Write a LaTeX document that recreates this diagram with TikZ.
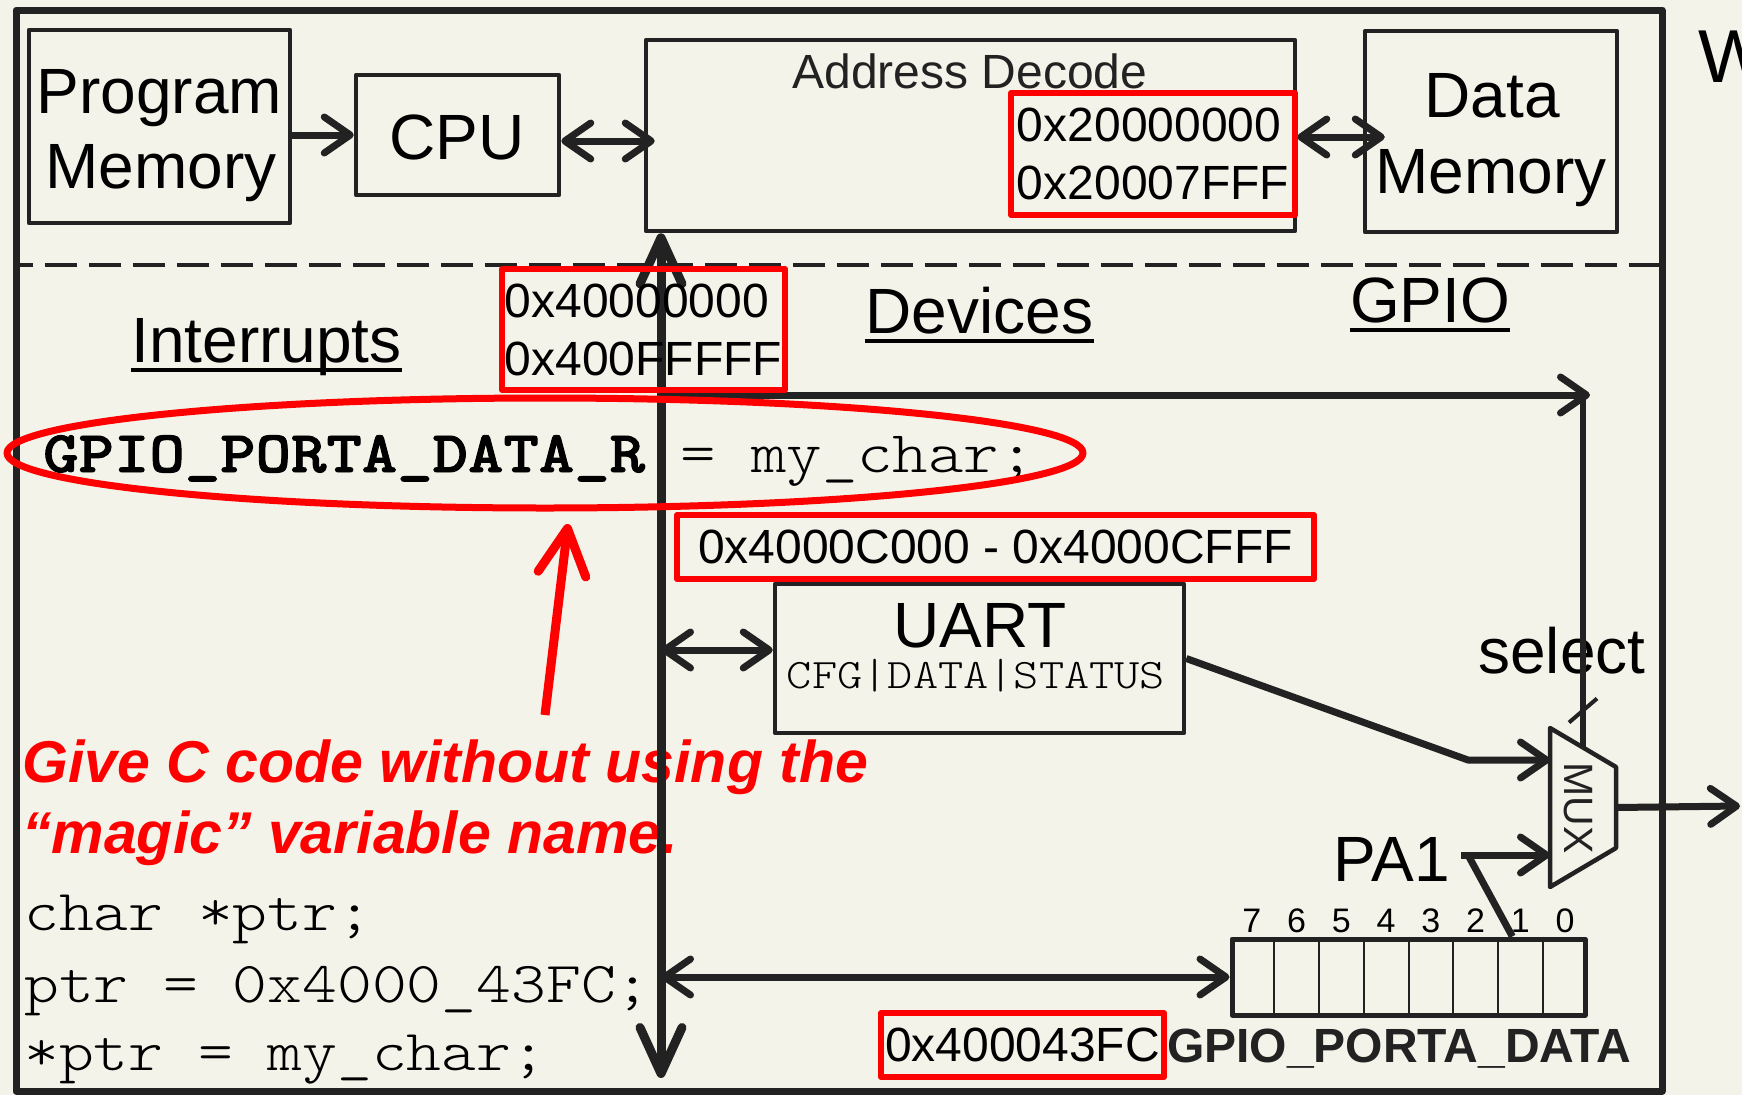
\documentclass[tikz,border=0pt]{standalone}
\usepackage{fontspec}
\setmainfont{Liberation Sans}
\setmonofont{lmmonolt10-regular.otf}[FakeStretch=1.143,BoldFont=lmmonolt10-bold.otf,BoldFeatures={FakeStretch=1.143,FakeBold=1.5}]
\usetikzlibrary{arrows.meta,calc}
\definecolor{bg}{RGB}{243,243,233}
\definecolor{ink}{RGB}{34,34,34}
\definecolor{hl}{RGB}{255,0,0}
\newcommand\fsz[2]{\fontsize{#1pt}{#2pt}\selectfont}
\tikzset{
  Chev/.tip={Straight Barb[length=26pt,width=36pt,round]},
  BigChev/.tip={Straight Barb[length=46pt,width=42pt,round]},
  RedChev/.tip={Straight Barb[length=46pt,width=48pt,round]},
}
\begin{document}
\begin{tikzpicture}[x=1pt,y=-1pt,line join=round,
  every node/.style={inner sep=0pt},
  box/.style={draw=ink,line width=4.5pt},
  hlbox/.style={draw=hl,line width=6pt},
  wire/.style={draw=ink,line width=7pt},
  uline/.style={draw=black,line width=4pt},
  head/.style={font=\fsz{64}{75}},
  hex/.style={font=\fsz{48}{58}},
  code/.style={font=\ttfamily\fsz{58}{70}}]
\useasboundingbox (0,0) rectangle (1742,1095);
\fill[bg] (0,0) rectangle (1742,1095);

% outer frame and the split between core and peripheral region
\draw[ink,line width=7pt] (16,10) rectangle (1662,1091);
\draw[ink,line width=4pt,dash pattern=on 32pt off 12pt,dash phase=15pt] (16,265) -- (1662,265);

% core: memories, CPU, address decoder
\node[box,minimum width=261pt,minimum height=193pt] (pm) at (159.5,126.5) {};
\node[anchor=base,head] (pm1) at (159.5,113) {Program};
\node[anchor=base,head] (pm2) at (161,188) {Memory};
\node[box,minimum width=203pt,minimum height=120pt] (cpu) at (457.5,135) {};
\node[anchor=base,head] (cpul) at (457,159) {CPU};
\node[box,minimum width=649pt,minimum height=191pt] (ad) at (970.5,135.5) {};
\node[anchor=base,font=\fsz{48}{56},text=ink] (adl) at (970,88) {Address Decode};
\node[box,minimum width=252pt,minimum height=201pt] (dm) at (1491,131.5) {};
\node[anchor=base,head] (dm1) at (1492,117) {Data};
\node[anchor=base,head] (dm2) at (1491,193) {Memory};
\node[anchor=base west,font=\fsz{75}{80}] (wr) at (1698,82) {W};

\coordinate (r141) at (0,141);
\coordinate (r137) at (0,137);
\draw[wire,-Chev] (pm.east |- cpu.west) -- (cpu.west);
\draw[wire,Chev-Chev,shorten >=-11pt] (cpu.east |- r141) -- (ad.west |- r141);
\draw[wire,Chev-Chev,shorten >=-22pt] (ad.east |- r137) -- (dm.west |- r137);

% section headings
\node[anchor=base,head] (irq) at (266.5,362) {Interrupts};
\node[anchor=base,head] (dev) at (979.5,333) {Devices};
\node[anchor=base,head] (gpio) at (1430,322) {GPIO};
\foreach \n in {irq,dev,gpio}
  \draw[uline] ([yshift=-8pt]\n.base west) -- ([yshift=-8pt]\n.base east);

% question text (under the bus)
\node[anchor=base west,text=hl,font=\bfseries\itshape\fsz{59}{70}] (q1) at (22,782) {Give C code without using the};
\node[anchor=base west,text=hl,font=\bfseries\itshape\fsz{59}{70}] (q2) at (22,853) {“magic” variable name.};

% code
\node[anchor=base west,font=\ttfamily\fsz{59}{70}] (magic) at (43,472) {\textbf{GPIO\_PORTA\_DATA\_R} = my\_char;};
\node[anchor=base west,code] (c1) at (24,930) {char *ptr;};
\node[anchor=base west,code] (c2) at (24,1002) {ptr = 0x4000\_43FC;};
\node[anchor=base west,code] (c3) at (24,1070) {*ptr = my\_char;};

% UART
\node[box,minimum width=409pt,minimum height=149pt] (uart) at (979.5,658.5) {};
\node[anchor=base,head] (uartl) at (980,647) {UART};
\node[anchor=base,font=\ttfamily\fsz{42}{45}] (uartr) at (976,688) {CFG|DATA|STATUS};

% multiplexer
\coordinate (mtl) at (1550,728);
\coordinate (mtr) at (1616,767);
\coordinate (mbr) at (1616,848);
\coordinate (mbl) at (1550,887);
\draw[ink,line width=4.5pt] (mtl) -- (mtr) -- (mbr) -- (mbl) -- cycle;
\node[rotate=-90,font=\fsz{41}{45},text=ink] (muxl) at (1578,808) {MUX};
\coordinate (msel) at ($(mtl)!0.5!(mtr)$);
\coordinate (min1) at (1550,760);
\coordinate (min2) at (1550,855);
\coordinate (mout) at ($(mtr)!0.5!(mbr)$);
\coordinate (outend) at (1740,806);
\node[anchor=base west,head] (sel) at (1478,673) {select};
\node[anchor=base east,head] (pa1) at (1450,881) {PA1};

% port A data register
\node[draw=ink,line width=5pt,minimum width=353pt,minimum height=76pt] (reg) at (1408.5,977) {};
\foreach \i in {1,...,7}
  \draw[ink,line width=2pt] ($(reg.north west)!\i/8!(reg.north east)$) -- ($(reg.south west)!\i/8!(reg.south east)$);
\foreach \b in {7,6,5,4,3,2,1,0}
  \node[anchor=base,font=\fsz{34}{38}] (bit\b) at ($(reg.north west)!{(7.5-\b)/8}!(reg.north east)+(0,-4)$) {\b};
\node[anchor=base west,font=\bfseries\fsz{48}{55},text=ink] (regname) at (1167,1062) {GPIO\_PORTA\_DATA};
\coordinate (tap) at ($(reg.north west)!0.79!(reg.north east)$);

% system bus and its branches
\coordinate (busx) at (661,0);
\coordinate (busend) at (661,1078);
\coordinate (b2) at (661,650);
\coordinate (selc) at (1590,395);
\coordinate (bend1) at (1468,760);
\coordinate (bend2) at (1468,855);
\draw[ink,line width=9pt,BigChev-BigChev] (ad.south -| busx) -- (busend);
\draw[wire,-Chev] (busx |- selc) -- (selc);
\draw[ink,line width=6pt] (msel |- selc) -- (msel);
\draw[ink,line width=4pt] ($(msel)+(-14,-25)$) -- ($(msel)+(14,-49)$);
\draw[wire,Chev-Chev] (b2) -- (uart.west |- b2);
\draw[wire,-Chev] (uart.east) -- (bend1) -- (min1);
\draw[wire] (tap) -- (bend2);
\draw[wire,-Chev] ($(pa1.east |- min2)+(11,0)$) -- (min2);
\draw[wire,-Chev] (mout) -- (outend);
\draw[wire,Chev-Chev] (busx |- reg.west) -- (reg.west);

% address ranges
\node[hlbox,minimum width=284pt,minimum height=122pt,align=left,hex] (sram) at (1153,154) {0x20000000\\0x20007FFF};
\node[hlbox,minimum width=283pt,minimum height=121pt,align=left,hex] (periph) at (643.5,329.5) {0x40000000\\0x400FFFFF};
\node[hlbox,minimum width=637pt,minimum height=64pt,hex] (uartaddr) at (995.5,547) {0x4000C000 - 0x4000CFFF};
\node[hlbox,minimum width=283pt,minimum height=64pt,hex] (regaddr) at (1022.5,1045) {0x400043FC};

% highlight of the magic name
\draw[hl,line width=7pt] (545,453) ellipse [x radius=538pt,y radius=55pt];
\coordinate (rtail) at (545,715);
\coordinate (rtip) at (568,524);
\draw[hl,line width=9pt,-RedChev] (rtail) -- (rtip);
\end{tikzpicture}
\end{document}
